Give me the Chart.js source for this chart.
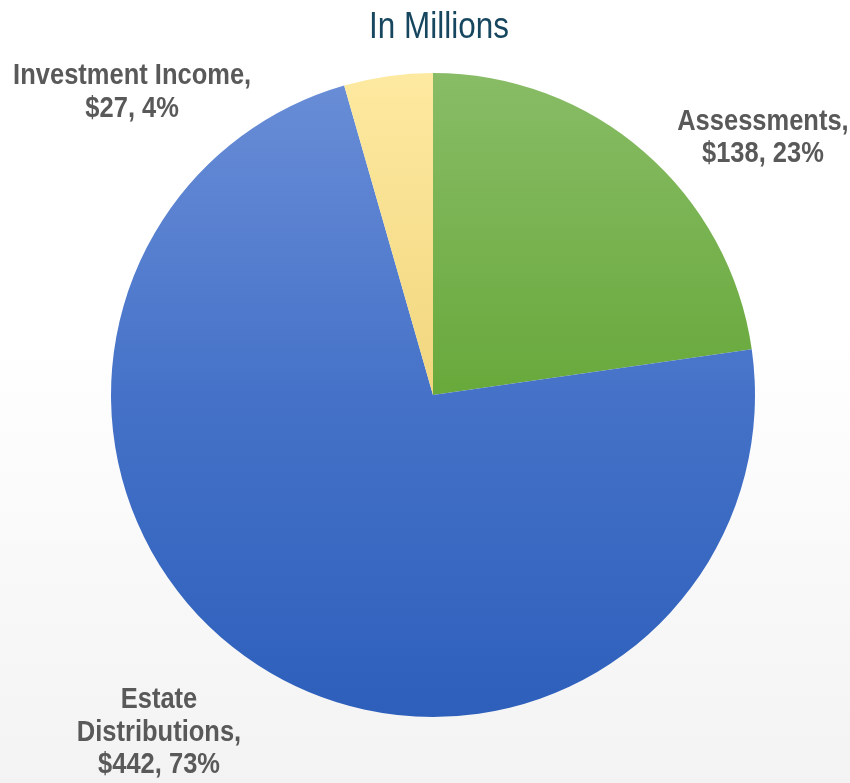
<!DOCTYPE html>
<html>
<head>
<meta charset="utf-8">
<script src="https://cdn.jsdelivr.net/npm/chart.js@4/dist/chart.umd.min.js"></script>
<style>
  html, body { margin: 0; padding: 0; }
  body {
    width: 850px; height: 783px;
    background: linear-gradient(to bottom, #ffffff 0%, #ffffff 42%, #f3f3f3 100%);
  }
  #wrap { position: relative; width: 850px; height: 783px; }
</style>
</head>
<body>
<div id="wrap"><canvas id="pie"></canvas></div>
<script>
// Revenue sources, in millions
const categories = ['Assessments', 'Estate Distributions', 'Investment Income'];
const amounts = [138, 442, 27];
const percents = [23, 73, 4];
const chartTitle = 'In Millions';
// label text lines as shown in the chart
const labelLines = [
  ['Assessments,', '$138, 23%'],
  ['Estate', 'Distributions,', '$442, 73%'],
  ['Investment Income,', '$27, 4%']
];

// gradient stops per slice (top, middle, bottom of the pie)
const sliceGradients = [
  ['#88bc66', '#68a93b', '#5e9c2e'],
  ['#6a8ed7', '#4572c8', '#2d5fbb'],
  ['#fde9a0', '#f1d67e', '#e8c868']
];

// where each label block sits relative to the slice's outer edge midpoint
const labelOffsets = [[119, -14], [-99, 67], [-256, 16]];

// no condensed font installed, so squeeze a normal one horizontally
const squeeze = 0.85;
const fontFam = '"Liberation Sans", Arial, sans-serif';

function sliceFill(ctx) {
  const chart = ctx.chart;
  const area = chart.chartArea;
  if (!area) return sliceGradients[ctx.dataIndex][1];
  const g = chart.ctx.createLinearGradient(0, area.top, 0, area.bottom);
  const stops = sliceGradients[ctx.dataIndex];
  g.addColorStop(0, stops[0]);
  g.addColorStop(0.5, stops[1]);
  g.addColorStop(1, stops[2]);
  return g;
}

function squeezedText(c, text, x, y) {
  c.save();
  c.translate(x, y);
  c.scale(squeeze, 1);
  c.fillText(text, 0, 0);
  c.restore();
}

// title plus the outside labels next to each slice
const outsideLabels = {
  id: 'outsideLabels',
  afterDatasetsDraw(chart) {
    const c = chart.ctx;
    const area = chart.chartArea;
    const meta = chart.getDatasetMeta(0);
    c.save();
    c.textAlign = 'center';
    c.textBaseline = 'middle';

    c.font = '37px ' + fontFam;
    c.fillStyle = '#17465f';
    squeezedText(c, chartTitle, (area.left + area.right) / 2 + 6, area.top - 45);

    c.font = 'bold 30px ' + fontFam;
    c.fillStyle = '#595959';
    const lh = 32.5;
    meta.data.forEach((arc, i) => {
      const mid = (arc.startAngle + arc.endAngle) / 2;
      const ex = arc.x + Math.cos(mid) * arc.outerRadius;
      const ey = arc.y + Math.sin(mid) * arc.outerRadius;
      const lines = labelLines[i];
      const cx = ex + labelOffsets[i][0];
      const cy = ey + labelOffsets[i][1];
      const y0 = cy - (lines.length - 1) * lh / 2;
      lines.forEach((t, k) => squeezedText(c, t, cx, y0 + k * lh));
    });
    c.restore();
  }
};

new Chart(document.getElementById('pie'), {
  type: 'pie',
  data: {
    labels: categories,
    datasets: [{
      data: amounts,
      backgroundColor: sliceFill,
      borderWidth: 0
    }]
  },
  options: {
    responsive: true,
    maintainAspectRatio: false,
    animation: false,
    layout: { padding: { left: 111, right: 95, top: 73, bottom: 66 } },
    plugins: {
      legend: { display: false },
      tooltip: { enabled: false },
      title: { display: false }
    }
  },
  plugins: [outsideLabels]
});
</script>
</body>
</html>
